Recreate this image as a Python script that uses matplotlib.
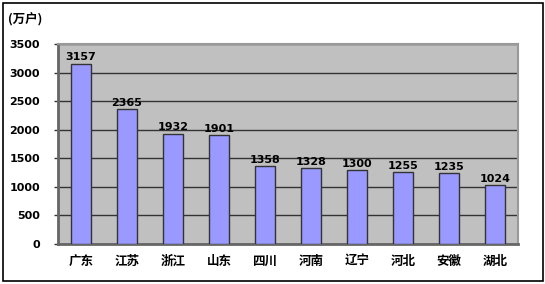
import matplotlib
matplotlib.use("Agg")
import matplotlib.pyplot as plt
from matplotlib.patches import Rectangle

plt.rcParams['font.family'] = ['Noto Sans CJK SC', 'DejaVu Sans']

provinces = ['广东', '江苏', '浙江', '山东', '四川', '河南', '辽宁', '河北', '安徽', '湖北']
households = [3157, 2365, 1932, 1901, 1358, 1328, 1300, 1255, 1235, 1024]
yticks = [0, 500, 1000, 1500, 2000, 2500, 3000, 3500]

fig = plt.figure(figsize=(5.45, 2.84), dpi=100)
# outer frame
fig.patches.append(Rectangle((3/545, 3/284), 540/545, 278/284, transform=fig.transFigure,
                             fill=False, edgecolor='black', linewidth=1.2))

ax = fig.add_axes([58/545, 40/284, 460/545, 200/284])
ax.set_facecolor('#c0c0c0')

x = range(len(provinces))
ax.bar(x, households, width=0.42, color='#9999ff', edgecolor='#333333', linewidth=1.0, zorder=3)
for i, v in enumerate(households):
    ax.text(i, v + 20, str(v), ha='center', va='bottom', fontsize=8, fontweight='bold',
            family='DejaVu Sans', zorder=4)

ax.set_xlim(-0.5, len(provinces) - 0.5)
ax.set_ylim(0, 3500)
ax.set_yticks(yticks)
ax.set_yticklabels([str(t) for t in yticks], fontsize=8, fontweight='bold', family='DejaVu Sans')
ax.set_xticks(list(x))
ax.set_xticklabels(provinces, fontsize=9, fontweight='bold')
ax.tick_params(axis='x', length=0, pad=8)
ax.tick_params(axis='y', length=3, width=1, color='#333333', pad=10)
ax.yaxis.grid(True, color='#333333', linewidth=1.0, zorder=1)
ax.set_axisbelow(True)

for s in ['top', 'right']:
    ax.spines[s].set_color('#999999')
    ax.spines[s].set_linewidth(1.5)
for s in ['left', 'bottom']:
    ax.spines[s].set_color('#666666')
    ax.spines[s].set_linewidth(2)

fig.text(8/545, 1 - 20/284, '(万户)', fontsize=9, fontweight='bold', va='center', ha='left')

fig.savefig('out.png', dpi=100)
